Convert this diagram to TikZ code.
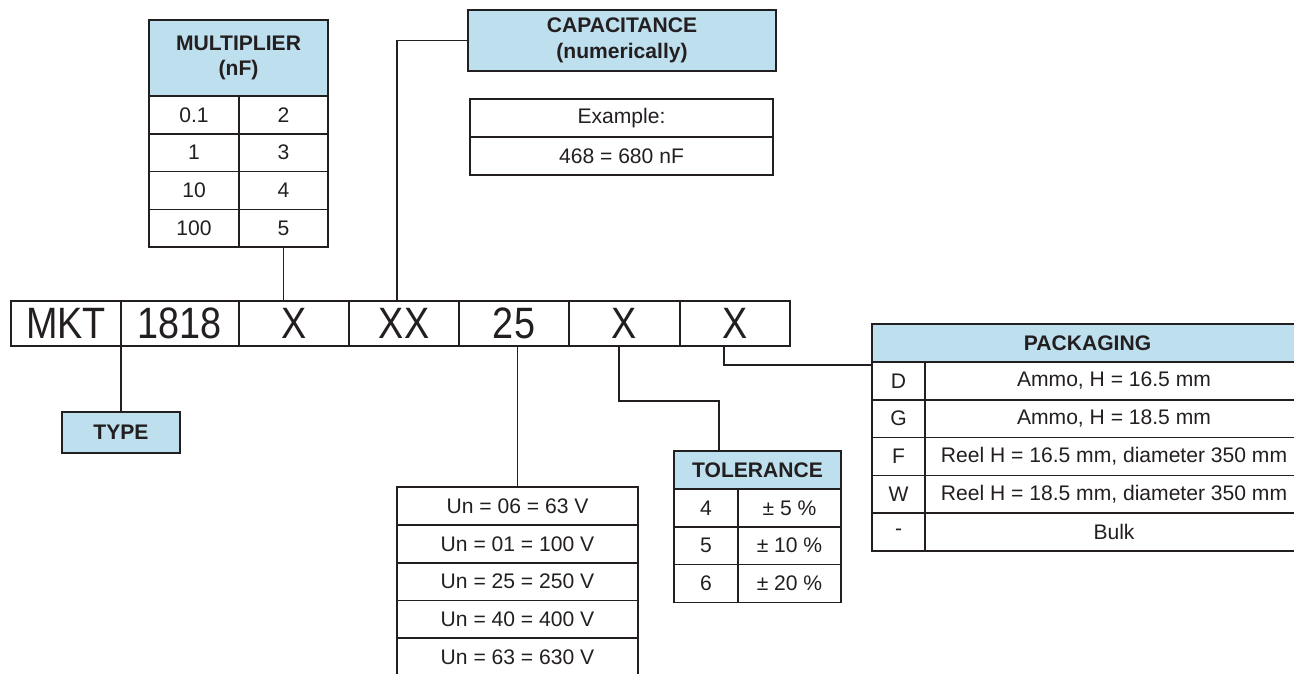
\documentclass[tikz,border=0pt]{standalone}
\usepackage{fontspec}
\setmainfont{Liberation Sans}
\definecolor{hdblue}{RGB}{190,223,237}
\definecolor{ink}{RGB}{35,31,32}
\newcommand{\tabfont}{\fontsize{12}{14.5}\selectfont}
\newcommand{\hdfont}{\fontsize{12}{14.5}\selectfont\bfseries}
\newcommand{\bigfont}{\fontsize{25}{28}\selectfont}
\newcommand{\narrow}[1]{\scalebox{0.86}[1]{#1}}

\begin{document}
\begin{tikzpicture}[x=0.02cm, y=-0.02cm, line width=1pt, color=ink,
    every node/.style={inner sep=0pt, outer sep=0pt, text=ink},
    cell/.style={draw, minimum height=0.756cm, font=\tabfont},
    head/.style={cell, fill=hdblue, font=\hdfont, align=center},
    code/.style={draw, minimum width=2.2cm, minimum height=0.9cm, font=\bigfont}]
  \useasboundingbox (0,0) rectangle (1294,673);
  \clip (0,0) rectangle (1294,673);

  % type code
  \node[code] (mkt) at (66,323.5) {\narrow{MKT}};
  \node[code, minimum width=2.36cm] (ser) at (180,323.5) {\narrow{1818}};
  \node[code] (mul) at (294,323.5) {\narrow{X}};
  \node[code] (cap) at (404,323.5) {\narrow{XX}};
  \node[code] (volt) at (514,323.5) {\narrow{25}};
  \node[code] (tol) at (624.5,323.5) {\narrow{X}};
  \node[code] (pack) at (735,323.5) {\narrow{X}};

  % multiplier
  \node[head, minimum width=3.58cm, minimum height=1.52cm] (mhead) at (238.5,58) {MULTIPLIER\\(nF)};
  \node[cell, minimum width=1.8cm] (m1a) at (194,114.9) {0.1};
  \node[cell, minimum width=1.78cm] (m1b) at (283.5,114.9) {2};
  \node[cell, minimum width=1.8cm] (m2a) at (194,152.7) {1};
  \node[cell, minimum width=1.78cm] (m2b) at (283.5,152.7) {3};
  \node[cell, minimum width=1.8cm] (m3a) at (194,190.5) {10};
  \node[cell, minimum width=1.78cm] (m3b) at (283.5,190.5) {4};
  \node[cell, minimum width=1.8cm] (m4a) at (194,228.3) {100};
  \node[cell, minimum width=1.78cm] (m4b) at (283.5,228.3) {5};
  \draw (m4b.south) -- (m4b.south |- mul.north);

  % capacitance
  \node[head, minimum width=6.16cm, minimum height=1.22cm] (caphead) at (622,40.5) {CAPACITANCE\\(numerically)};
  \node[cell, minimum width=6.06cm] (ex1) at (621.5,118) {Example:};
  \node[cell, minimum width=6.06cm] (ex2) at (621.5,156) {468 = 680 nF};
  \draw ([xshift=-0.14cm]cap.north) |- (caphead.west);

  % type
  \node[head, minimum width=2.36cm, minimum height=0.82cm] (type) at (121,432.5) {TYPE};
  \draw (mkt.south east) -- (type.north);

  % rated voltage
  \node[cell, minimum width=4.82cm] (v1) at (517.5,506) {Un = 06 = 63 V};
  \node[cell, minimum width=4.82cm] (v2) at (517.5,543.8) {Un = 01 = 100 V};
  \node[cell, minimum width=4.82cm] (v3) at (517.5,581.6) {Un = 25 = 250 V};
  \node[cell, minimum width=4.82cm] (v4) at (517.5,619.4) {Un = 40 = 400 V};
  \node[cell, minimum width=4.82cm] (v5) at (517.5,657.2) {Un = 63 = 630 V};
  \draw (volt.south -| v1.north) -- (v1.north);

  % tolerance
  \node[head, minimum width=3.34cm] (thead) at (757.5,470) {TOLERANCE};
  \node[cell, minimum width=1.28cm] (t1a) at (706,507.9) {4};
  \node[cell, minimum width=2.06cm] (t1b) at (789.5,507.9) {± 5 \%};
  \node[cell, minimum width=1.28cm] (t2a) at (706,545.7) {5};
  \node[cell, minimum width=2.06cm] (t2b) at (789.5,545.7) {± 10 \%};
  \node[cell, minimum width=1.28cm] (t3a) at (706,583.5) {6};
  \node[cell, minimum width=2.06cm] (t3b) at (789.5,583.5) {± 20 \%};
  \coordinate (tolknee) at (719,401);
  \draw ([xshift=-0.11cm]tol.south) |- (tolknee) -- (tolknee |- thead.north);

  % packaging
  \node[head, minimum width=8.62cm] (phead) at (1087.5,343) {PACKAGING};
  \node[cell, minimum width=1.06cm] (p1a) at (898.5,380.9) {D};
  \node[cell, minimum width=7.56cm] (p1b) at (1114,380.9) {Ammo, H = 16.5 mm};
  \node[cell, minimum width=1.06cm] (p2a) at (898.5,418.7) {G};
  \node[cell, minimum width=7.56cm] (p2b) at (1114,418.7) {Ammo, H = 18.5 mm};
  \node[cell, minimum width=1.06cm] (p3a) at (898.5,456.5) {F};
  \node[cell, minimum width=7.56cm] (p3b) at (1114,456.5) {Reel H = 16.5 mm, diameter 350 mm};
  \node[cell, minimum width=1.06cm] (p4a) at (898.5,494.3) {W};
  \node[cell, minimum width=7.56cm] (p4b) at (1114,494.3) {Reel H = 18.5 mm, diameter 350 mm};
  \node[cell, minimum width=1.06cm] (p5a) at (898.5,532.1) {-};
  \node[cell, minimum width=7.56cm] (p5b) at (1114,532.1) {Bulk};
  \draw ([xshift=-0.22cm]pack.south) |- ([yshift=-0.06cm]phead.south west);
\end{tikzpicture}
\end{document}
